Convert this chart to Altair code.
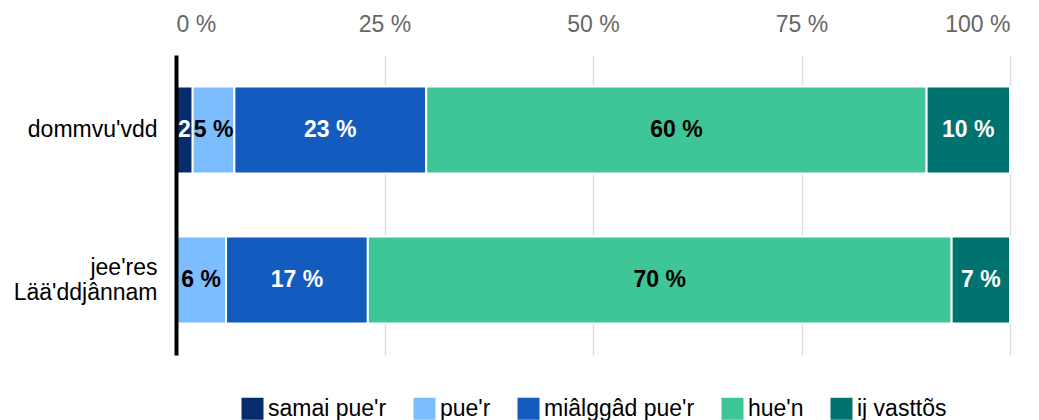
import altair as alt
import pandas as pd

categories = ["dommvu'vdd", "jee'res Lää'ddjânnam"]
series = ["samai pue'r", "pue'r", "miâlggâd pue'r", "hue'n", "ij vasttõs"]
colors = ["#062c6d", "#7bbdff", "#135bbf", "#3ec696", "#007370"]
values_row1 = [2, 5, 23, 60, 10]
values_row2 = [0, 6, 17, 70, 7]
labels_row1 = ["2", "5 %", "23 %", "60 %", "10 %"]
labels_row2 = ["", "6 %", "17 %", "70 %", "7 %"]
ticks = [0, 25, 50, 75, 100]

rows = []
for cat, vals, labs in [(categories[0], values_row1, labels_row1),
                        (categories[1], values_row2, labels_row2)]:
    for k, (s, v, l) in enumerate(zip(series, vals, labs)):
        rows.append({"cat": cat, "s": s, "k": k, "v": v, "lab": l})
df = pd.DataFrame(rows)

FONT = "Liberation Sans"
FS = 23

base = alt.Chart(df).transform_filter("datum.v > 0").transform_stack(
    stack="v", groupby=["cat"], as_=["v0", "v1"],
    sort=[alt.SortField("k", order="ascending")]
).transform_calculate(mid="(datum.v0 + datum.v1) / 2")

y = alt.Y("cat:N", sort=categories, title=None,
          scale=alt.Scale(paddingInner=0, paddingOuter=0),
          axis=alt.Axis(labelFont=FONT, labelFontSize=FS, labelColor="black",
                        labelExpr="split(datum.label, ' ')", labelLineHeight=25,
                        labelOffset={"condition": {"test": "indexof(datum.label, ' ') >= 0",
                                                   "value": -12}, "value": 0},
                        labelPadding=19, ticks=False, domainColor="black",
                        domainWidth=4, grid=False, zindex=1, labelLimit=0,
                        minExtent=168, maxExtent=168))

bars = base.mark_bar(size=87, stroke="white", strokeWidth=2).encode(
    x=alt.X("v0:Q", title=None, scale=alt.Scale(domain=[0, 100], nice=False),
            axis=alt.Axis(orient="top", values=ticks, labelExpr="datum.value + ' %'",
                          labelFont=FONT, labelFontSize=FS, labelColor="#666666",
                          ticks=False, domain=False, grid=True, gridColor="#dcdcdc",
                          gridWidth=1.5, labelPadding=19, zindex=0,
                          minExtent=47, maxExtent=47)),
    x2="v1:Q",
    y=y,
    color=alt.Color("s:N", scale=alt.Scale(domain=series, range=colors),
                    legend=alt.Legend(title=None, orient="none", direction="horizontal",
                                      legendX=65, legendY=342, symbolType="square",
                                      symbolSize=484, symbolStrokeWidth=0,
                                      labelFont=FONT, labelFontSize=FS,
                                      labelColor="black", labelLimit=0,
                                      columnPadding=26, labelOffset=4)),
)

texts = base.mark_text(font=FONT, fontSize=FS, fontWeight="bold").encode(
    x="mid:Q",
    y=alt.Y("cat:N", sort=categories),
    text="lab:N",
    color=alt.condition("datum.k % 2 == 0", alt.value("white"), alt.value("black")),
)

chart = alt.layer(bars, texts).properties(
    width=834, height=300, padding={"left": 0, "top": 0, "right": 5, "bottom": 0}
).configure_view(stroke=None)

chart.save("out.html", embed_options={"renderer": "svg", "actions": False})
